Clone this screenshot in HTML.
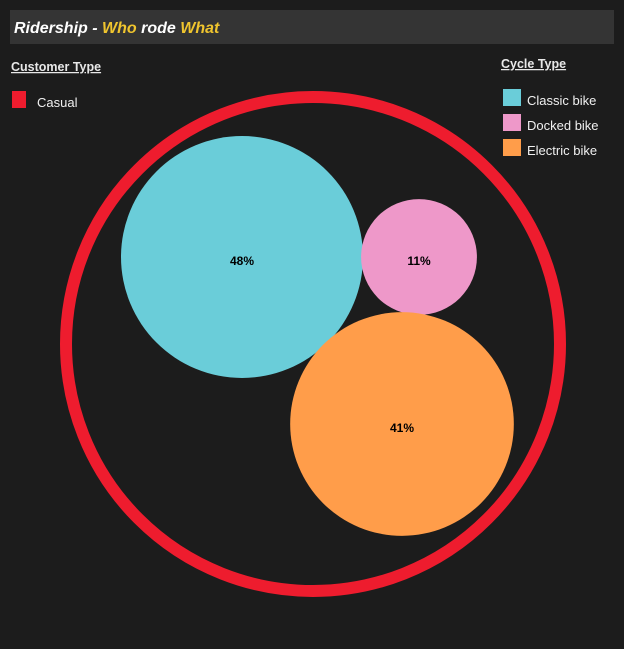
<!DOCTYPE html>
<html><head><meta charset="utf-8"><style>
body{margin:0;background:#1c1c1c;width:624px;height:649px;overflow:hidden;font-family:"Liberation Sans",sans-serif}
svg{position:absolute;left:0;top:0}
</style></head><body>
<svg width="624" height="649">
<rect x="0" y="0" width="624" height="649" fill="#1c1c1c"/>
<rect x="10" y="10" width="604" height="34" fill="#343434"/>
<text x="14" y="33" font-size="16" font-weight="bold" font-style="italic" fill="#fff">Ridership - <tspan fill="#f0c52e">Who</tspan> rode <tspan fill="#f0c52e">What</tspan></text>
<text x="11" y="71" font-size="12.5" font-weight="bold" fill="#e8e8e8" text-decoration="underline">Customer Type</text>
<rect x="12" y="91" width="14" height="17" fill="#ee1c2e"/>
<text x="37" y="107" font-size="13" fill="#f0f0f0">Casual</text>
<text x="501" y="68" font-size="12.5" font-weight="bold" fill="#e8e8e8" text-decoration="underline">Cycle Type</text>
<g id="legend"></g>
<circle cx="313" cy="344" r="247" fill="none" stroke="#ee1c2e" stroke-width="12"/>
<g id="bubbles"></g>
</svg>
<script>
const categories=["Classic bike","Docked bike","Electric bike"];
const values=[48,11,41];
const labels=["48%","11%","41%"];
const colors=["#6acdd9","#ee98c9","#ff9d4a"];
const centers=[[242,257],[419,257],[402,424]];
const NS="http://www.w3.org/2000/svg";
const maxR=121;
function rScale(v){return maxR*Math.sqrt(v/Math.max(...values));}
const g=document.getElementById('bubbles');
const lg=document.getElementById('legend');
categories.forEach((c,i)=>{
  const circ=document.createElementNS(NS,'circle');
  circ.setAttribute('cx',centers[i][0]);circ.setAttribute('cy',centers[i][1]);
  circ.setAttribute('r',rScale(values[i]));circ.setAttribute('fill',colors[i]);
  
  
  g.appendChild(circ);
  const t=document.createElementNS(NS,'text');
  t.setAttribute('x',centers[i][0]);t.setAttribute('y',centers[i][1]+8);
  t.setAttribute('text-anchor','middle');t.setAttribute('font-size','12');t.setAttribute('font-weight','bold');t.setAttribute('fill','#000');
  t.textContent=labels[i];
  
  
  g.appendChild(t);
  const s=document.createElementNS(NS,'rect');
  s.setAttribute('x',503);s.setAttribute('y',89+i*25);s.setAttribute('width',18);s.setAttribute('height',17);s.setAttribute('fill',colors[i]);
  
  
  lg.appendChild(s);
  const lt=document.createElementNS(NS,'text');
  lt.setAttribute('x',527);lt.setAttribute('y',105+i*25);lt.setAttribute('font-size','13');lt.setAttribute('fill','#f0f0f0');
  lt.textContent=c;
  
  
  lg.appendChild(lt);
});
</script>
</body></html>
